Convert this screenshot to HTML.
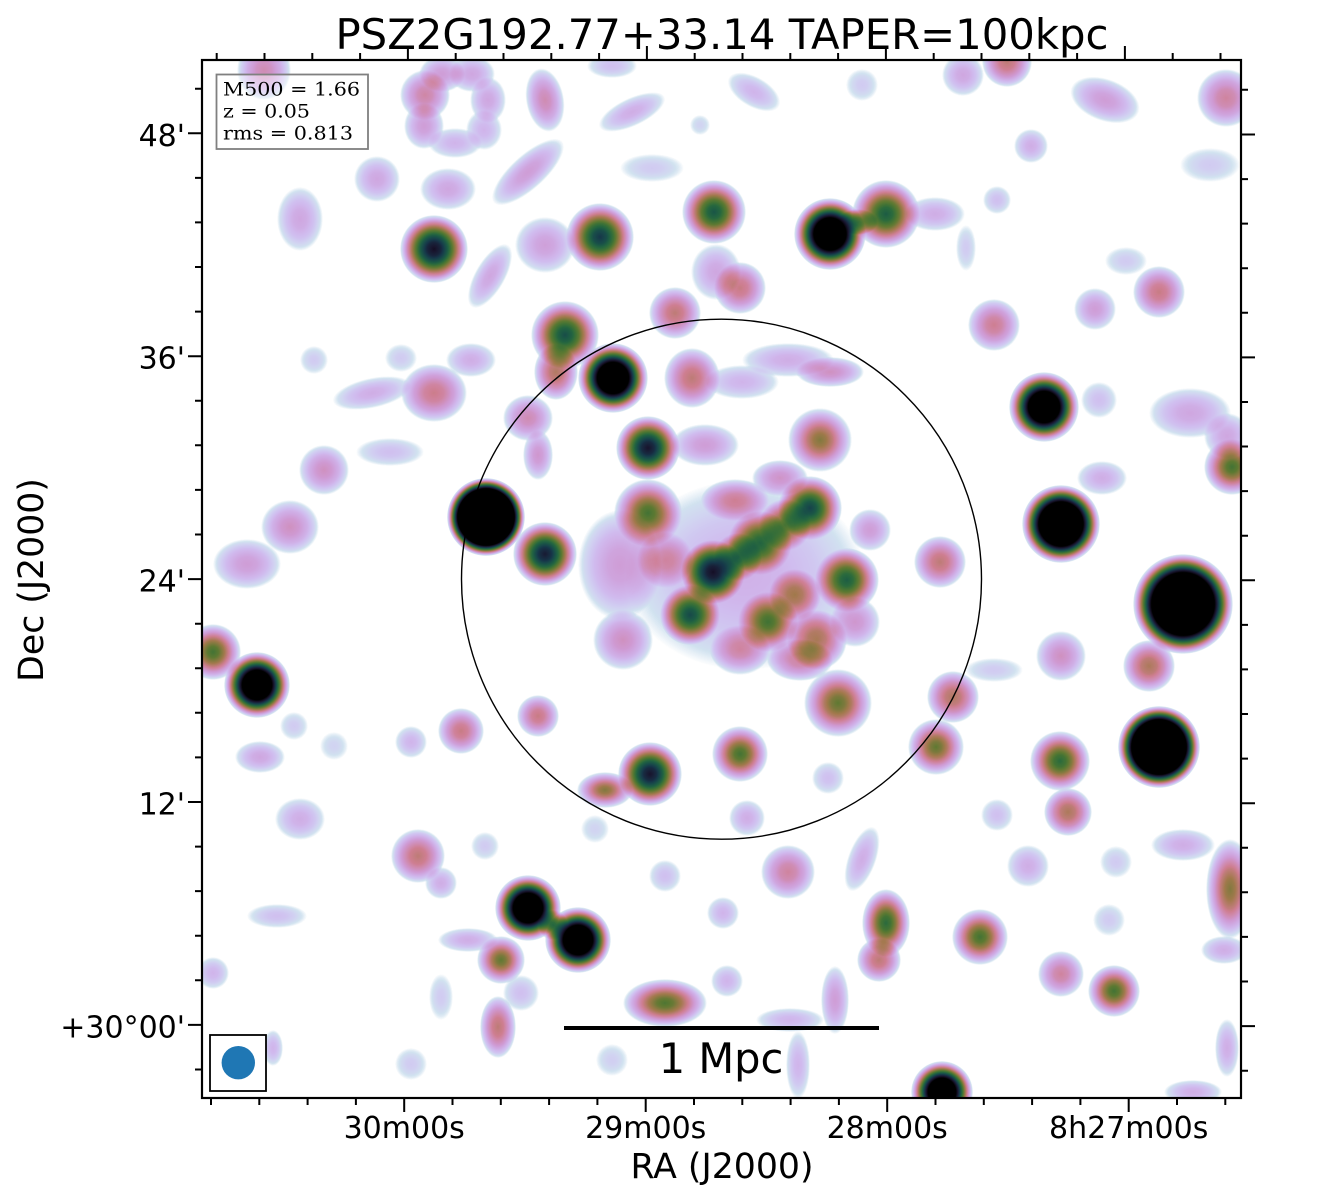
<!DOCTYPE html>
<html>
<head>
<meta charset="utf-8">
<style>
html,body{margin:0;padding:0;background:#fff;}
svg{display:block;}
text{font-family:"DejaVu Sans","Liberation Sans",sans-serif;fill:#000;}
</style>
</head>
<body>
<svg width="1321" height="1200" viewBox="0 0 1321 1200" xmlns="http://www.w3.org/2000/svg">
<defs>
  <radialGradient id="g">
    <stop offset="0" stop-color="#fff" stop-opacity="1"/>
    <stop offset="0.2" stop-color="#fff" stop-opacity="0.92"/>
    <stop offset="0.4" stop-color="#fff" stop-opacity="0.76"/>
    <stop offset="0.6" stop-color="#fff" stop-opacity="0.54"/>
    <stop offset="0.8" stop-color="#fff" stop-opacity="0.3"/>
    <stop offset="1" stop-color="#fff" stop-opacity="0"/>
  </radialGradient>
  <radialGradient id="f">
    <stop offset="0" stop-color="#fff" stop-opacity="1"/>
    <stop offset="0.3" stop-color="#fff" stop-opacity="0.9"/>
    <stop offset="0.6" stop-color="#fff" stop-opacity="0.64"/>
    <stop offset="0.85" stop-color="#fff" stop-opacity="0.3"/>
    <stop offset="1" stop-color="#fff" stop-opacity="0"/>
  </radialGradient>
  <radialGradient id="h45">
    <stop offset="0" stop-color="#fff" stop-opacity="1"/>
    <stop offset="0.45" stop-color="#fff" stop-opacity="1"/>
    <stop offset="1" stop-color="#fff" stop-opacity="0"/>
  </radialGradient>
  <radialGradient id="h57">
    <stop offset="0" stop-color="#fff" stop-opacity="1"/>
    <stop offset="0.57" stop-color="#fff" stop-opacity="1"/>
    <stop offset="1" stop-color="#fff" stop-opacity="0"/>
  </radialGradient>
  <radialGradient id="h63">
    <stop offset="0" stop-color="#fff" stop-opacity="1"/>
    <stop offset="0.63" stop-color="#fff" stop-opacity="1"/>
    <stop offset="1" stop-color="#fff" stop-opacity="0"/>
  </radialGradient>
  <radialGradient id="h67">
    <stop offset="0" stop-color="#fff" stop-opacity="1"/>
    <stop offset="0.67" stop-color="#fff" stop-opacity="1"/>
    <stop offset="1" stop-color="#fff" stop-opacity="0"/>
  </radialGradient>
  <radialGradient id="h73">
    <stop offset="0" stop-color="#fff" stop-opacity="1"/>
    <stop offset="0.73" stop-color="#fff" stop-opacity="1"/>
    <stop offset="1" stop-color="#fff" stop-opacity="0"/>
  </radialGradient>
  <filter id="cm" filterUnits="userSpaceOnUse" x="202" y="60" width="1039" height="1038" color-interpolation-filters="sRGB">
    <feComponentTransfer>
      <feFuncR type="table" tableValues="1 .822 .820 .817 .815 .814 .815 .811 .725 .639 .508 .371 .262 .166 .112 .096 .089 .096 .094 .047 0"/>
      <feFuncG type="table" tableValues="1 .888 .810 .735 .667 .602 .548 .496 .486 .476 .475 .476 .452 .417 .361 .287 .213 .142 .076 .038 0"/>
      <feFuncB type="table" tableValues="1 .941 .949 .936 .890 .826 .698 .569 .436 .303 .245 .198 .207 .241 .269 .291 .287 .233 .173 .086 0"/>
    </feComponentTransfer>
  </filter>
</defs>

<rect x="0" y="0" width="1321" height="1200" fill="#fff"/>

<g filter="url(#cm)">
  <rect x="202" y="60" width="1039" height="1038" fill="#000"/>
  <!-- faint / diffuse emission -->
  <g fill="url(#f)">
    <ellipse cx="745" cy="575" rx="120" ry="95" opacity=".18"/>
    <ellipse cx="264" cy="70" rx="27" ry="30" opacity=".3"/>
    <ellipse cx="425" cy="95" rx="25" ry="25" opacity=".32"/>
    <ellipse cx="442" cy="74" rx="23" ry="18" opacity=".24"/>
    <ellipse cx="472" cy="74" rx="23" ry="18" opacity=".21"/>
    <ellipse cx="488" cy="100" rx="18" ry="23" opacity=".21"/>
    <ellipse cx="484" cy="130" rx="18" ry="20" opacity=".17"/>
    <ellipse cx="455" cy="143" rx="27" ry="15" opacity=".17"/>
    <ellipse cx="424" cy="126" rx="20" ry="23" opacity=".24"/>
    <ellipse cx="545" cy="100" rx="19" ry="32" opacity=".3" transform="rotate(-10 545 100)"/>
    <ellipse cx="612" cy="66" rx="25" ry="12" opacity=".14"/>
    <ellipse cx="632" cy="112" rx="36" ry="14" opacity=".19" transform="rotate(-25 632 112)"/>
    <ellipse cx="700" cy="125" rx="10" ry="10" opacity=".09"/>
    <ellipse cx="300" cy="219" rx="23" ry="32" opacity=".21"/>
    <ellipse cx="377" cy="179" rx="23" ry="23" opacity=".21"/>
    <ellipse cx="448" cy="189" rx="28" ry="21" opacity=".21"/>
    <ellipse cx="528" cy="172" rx="46" ry="17" opacity=".24" transform="rotate(-42 528 172)"/>
    <ellipse cx="652" cy="168" rx="32" ry="14" opacity=".11"/>
    <ellipse cx="490" cy="276" rx="15" ry="36" opacity=".21" transform="rotate(30 490 276)"/>
    <ellipse cx="545" cy="245" rx="30" ry="28" opacity=".23"/>
    <ellipse cx="716" cy="272" rx="25" ry="28" opacity=".21"/>
    <ellipse cx="556" cy="372" rx="22" ry="28" opacity=".42"/>
    <ellipse cx="675" cy="313" rx="26" ry="26" opacity=".39"/>
    <ellipse cx="692" cy="378" rx="28" ry="30" opacity=".39"/>
    <ellipse cx="434" cy="393" rx="33" ry="29" opacity=".36"/>
    <ellipse cx="372" cy="393" rx="40" ry="15" opacity=".19" transform="rotate(-12 372 393)"/>
    <ellipse cx="314" cy="360" rx="14" ry="14" opacity=".11"/>
    <ellipse cx="471" cy="360" rx="25" ry="17" opacity=".19"/>
    <ellipse cx="401" cy="358" rx="16" ry="14" opacity=".11"/>
    <ellipse cx="528" cy="418" rx="25" ry="23" opacity=".3"/>
    <ellipse cx="538" cy="455" rx="15" ry="25" opacity=".26"/>
    <ellipse cx="705" cy="445" rx="34" ry="21" opacity=".24"/>
    <ellipse cx="324" cy="470" rx="25" ry="25" opacity=".28"/>
    <ellipse cx="390" cy="452" rx="34" ry="14" opacity=".14"/>
    <ellipse cx="290" cy="527" rx="29" ry="27" opacity=".28"/>
    <ellipse cx="247" cy="564" rx="34" ry="25" opacity=".24"/>

    <!-- central cluster diffuse -->
    <ellipse cx="620" cy="565" rx="42" ry="55" opacity=".24"/>
    <ellipse cx="623" cy="640" rx="30" ry="30" opacity=".28"/>
    <ellipse cx="817" cy="640" rx="30" ry="30" opacity=".42"/>
    <ellipse cx="735" cy="500" rx="34" ry="21" opacity=".3"/>
    <ellipse cx="795" cy="595" rx="26" ry="26" opacity=".37"/>
    <ellipse cx="780" cy="478" rx="28" ry="18" opacity=".27"/>
    <ellipse cx="870" cy="530" rx="21" ry="21" opacity=".24"/>
    <ellipse cx="800" cy="660" rx="33" ry="21" opacity=".33"/>
    <ellipse cx="665" cy="560" rx="28" ry="28" opacity=".26"/>
    <ellipse cx="740" cy="650" rx="30" ry="25" opacity=".28"/>
    <ellipse cx="855" cy="622" rx="25" ry="25" opacity=".26"/>

    <!-- top right -->
    <ellipse cx="1007" cy="62" rx="25" ry="25" opacity=".39"/>
    <ellipse cx="963" cy="75" rx="21" ry="21" opacity=".21"/>
    <ellipse cx="754" cy="92" rx="29" ry="15" opacity=".17" transform="rotate(30 754 92)"/>
    <ellipse cx="862" cy="85" rx="16" ry="16" opacity=".11"/>
    <ellipse cx="1105" cy="100" rx="36" ry="21" opacity=".24" transform="rotate(20 1105 100)"/>
    <ellipse cx="1226" cy="98" rx="29" ry="29" opacity=".33"/>
    <ellipse cx="1031" cy="146" rx="17" ry="17" opacity=".19"/>
    <ellipse cx="1210" cy="165" rx="30" ry="17" opacity=".11"/>
    <ellipse cx="858" cy="222" rx="20" ry="13" opacity=".4"/>
    <ellipse cx="935" cy="214" rx="30" ry="17" opacity=".19"/>
    <ellipse cx="966" cy="248" rx="10" ry="23" opacity=".11"/>
    <ellipse cx="997" cy="200" rx="14" ry="14" opacity=".14"/>
    <ellipse cx="740" cy="288" rx="26" ry="26" opacity=".37"/>
    <ellipse cx="1159" cy="292" rx="26" ry="26" opacity=".37"/>
    <ellipse cx="1126" cy="261" rx="21" ry="14" opacity=".11"/>
    <ellipse cx="1095" cy="309" rx="21" ry="21" opacity=".24"/>
    <ellipse cx="994" cy="325" rx="26" ry="26" opacity=".35"/>
    <ellipse cx="1099" cy="400" rx="18" ry="18" opacity=".14"/>
    <ellipse cx="1190" cy="413" rx="41" ry="25" opacity=".21"/>
    <ellipse cx="1227" cy="436" rx="23" ry="23" opacity=".21"/>
    <ellipse cx="1102" cy="478" rx="25" ry="17" opacity=".19"/>
    <ellipse cx="788" cy="360" rx="46" ry="17" opacity=".19"/>
    <ellipse cx="830" cy="372" rx="34" ry="15" opacity=".28"/>
    <ellipse cx="742" cy="382" rx="37" ry="17" opacity=".17"/>
    <ellipse cx="940" cy="562" rx="26" ry="26" opacity=".39"/>

    <!-- bottom left -->
    <ellipse cx="294" cy="726" rx="14" ry="14" opacity=".11"/>
    <ellipse cx="260" cy="757" rx="25" ry="16" opacity=".21"/>
    <ellipse cx="334" cy="746" rx="14" ry="14" opacity=".09"/>
    <ellipse cx="411" cy="742" rx="16" ry="16" opacity=".17"/>
    <ellipse cx="461" cy="731" rx="23" ry="23" opacity=".37"/>
    <ellipse cx="538" cy="716" rx="21" ry="21" opacity=".37"/>
    <ellipse cx="300" cy="819" rx="25" ry="21" opacity=".19"/>
    <ellipse cx="418" cy="856" rx="27" ry="27" opacity=".39"/>
    <ellipse cx="441" cy="883" rx="16" ry="16" opacity=".19"/>
    <ellipse cx="485" cy="846" rx="14" ry="14" opacity=".11"/>
    <ellipse cx="595" cy="829" rx="14" ry="14" opacity=".09"/>
    <ellipse cx="665" cy="876" rx="16" ry="16" opacity=".14"/>
    <ellipse cx="277" cy="916" rx="30" ry="12" opacity=".14"/>
    <ellipse cx="468" cy="940" rx="30" ry="12" opacity=".19"/>
    <ellipse cx="498" cy="1027" rx="18" ry="31" opacity=".39"/>
    <ellipse cx="213" cy="973" rx="16" ry="16" opacity=".17"/>
    <ellipse cx="441" cy="997" rx="12" ry="23" opacity=".11"/>
    <ellipse cx="411" cy="1064" rx="16" ry="16" opacity=".11"/>
    <ellipse cx="612" cy="1060" rx="16" ry="16" opacity=".1"/>
    <ellipse cx="273" cy="1048" rx="10" ry="18" opacity=".17"/>
    <ellipse cx="521" cy="993" rx="18" ry="18" opacity=".14"/>

    <!-- bottom right -->
    <ellipse cx="953" cy="697" rx="26" ry="26" opacity=".42"/>
    <ellipse cx="994" cy="670" rx="29" ry="12" opacity=".11"/>
    <ellipse cx="1061" cy="656" rx="25" ry="25" opacity=".28"/>
    <ellipse cx="1149" cy="666" rx="26" ry="26" opacity=".43"/>
    <ellipse cx="1068" cy="812" rx="24" ry="24" opacity=".43"/>
    <ellipse cx="997" cy="815" rx="16" ry="16" opacity=".14"/>
    <ellipse cx="1028" cy="866" rx="21" ry="21" opacity=".19"/>
    <ellipse cx="1116" cy="862" rx="16" ry="16" opacity=".11"/>
    <ellipse cx="1183" cy="845" rx="32" ry="16" opacity=".19"/>
    <ellipse cx="788" cy="872" rx="27" ry="27" opacity=".33"/>
    <ellipse cx="862" cy="859" rx="14" ry="34" opacity=".19" transform="rotate(20 862 859)"/>
    <ellipse cx="879" cy="960" rx="22" ry="22" opacity=".39"/>
    <ellipse cx="1061" cy="974" rx="23" ry="23" opacity=".33"/>
    <ellipse cx="835" cy="1000" rx="14" ry="34" opacity=".24"/>
    <ellipse cx="790" cy="1020" rx="34" ry="12" opacity=".17"/>
    <ellipse cx="1109" cy="920" rx="16" ry="16" opacity=".11"/>
    <ellipse cx="1224" cy="950" rx="23" ry="14" opacity=".19"/>
    <ellipse cx="1227" cy="1048" rx="12" ry="29" opacity=".19"/>
    <ellipse cx="798" cy="1065" rx="12" ry="34" opacity=".17"/>
    <ellipse cx="727" cy="981" rx="16" ry="16" opacity=".17"/>
    <ellipse cx="723" cy="913" rx="16" ry="16" opacity=".17"/>
    <ellipse cx="747" cy="818" rx="18" ry="18" opacity=".19"/>
    <ellipse cx="828" cy="778" rx="16" ry="16" opacity=".14"/>
    <ellipse cx="1193" cy="1092" rx="29" ry="12" opacity=".19"/>
  </g>

  <!-- compact sources -->
  <g fill="url(#g)">
    <ellipse cx="434" cy="249" rx="34" ry="34" opacity=".92"/>
    <ellipse cx="600" cy="237" rx="34" ry="34" opacity=".8"/>
    <ellipse cx="714" cy="212" rx="32" ry="32" opacity=".72"/>
    <ellipse cx="565" cy="335" rx="34" ry="34" opacity=".74"/>
    <ellipse cx="648" cy="448" rx="32" ry="32" opacity=".9"/>
    <ellipse cx="648" cy="513" rx="34" ry="34" opacity=".6"/>
    <ellipse cx="545" cy="554" rx="32" ry="32" opacity=".88"/>
    <ellipse cx="713" cy="572" rx="32" ry="32" opacity=".9"/>
    <ellipse cx="690" cy="615" rx="30" ry="30" opacity=".72"/>
    <ellipse cx="760" cy="543" rx="32" ry="32" opacity=".62"/>
    <ellipse cx="810" cy="508" rx="32" ry="32" opacity=".76"/>
    <ellipse cx="847" cy="580" rx="32" ry="32" opacity=".68"/>
    <ellipse cx="768" cy="622" rx="30" ry="30" opacity=".55"/>
    <ellipse cx="820" cy="440" rx="32" ry="32" opacity=".5"/>
    <ellipse cx="838" cy="703" rx="34" ry="34" opacity=".55"/>
    <ellipse cx="738" cy="557" rx="24" ry="24" opacity=".5"/>
    <ellipse cx="785" cy="525" rx="26" ry="26" opacity=".5"/>
    <ellipse cx="886" cy="214" rx="34" ry="34" opacity=".7"/>
    <ellipse cx="1232" cy="467" rx="28" ry="28" opacity=".6"/>
    <ellipse cx="213" cy="652" rx="28" ry="28" opacity=".6"/>
    <ellipse cx="650" cy="774" rx="32" ry="32" opacity=".9"/>
    <ellipse cx="605" cy="790" rx="28" ry="18" opacity=".5"/>
    <ellipse cx="553" cy="925" rx="15" ry="15" opacity=".5"/>
    <ellipse cx="501" cy="960" rx="24" ry="24" opacity=".55"/>
    <ellipse cx="665" cy="1003" rx="42" ry="24" opacity=".58"/>
    <ellipse cx="936" cy="747" rx="28" ry="28" opacity=".55"/>
    <ellipse cx="1060" cy="761" rx="30" ry="30" opacity=".65"/>
    <ellipse cx="1230" cy="889" rx="24" ry="50" opacity=".5"/>
    <ellipse cx="886" cy="923" rx="24" ry="34" opacity=".65"/>
    <ellipse cx="980" cy="937" rx="28" ry="28" opacity=".6"/>
    <ellipse cx="1114" cy="991" rx="26" ry="26" opacity=".6"/>
    <ellipse cx="740" cy="754" rx="28" ry="28" opacity=".6"/>
  </g>
  <!-- bright saturated sources -->
  <circle cx="613" cy="378" r="35" fill="url(#h45)"/>
  <circle cx="486" cy="517" r="39" fill="url(#h73)"/>
  <circle cx="830" cy="234" r="36" fill="url(#h45)"/>
  <circle cx="1044" cy="407" r="35" fill="url(#h45)"/>
  <circle cx="1061" cy="524" r="39" fill="url(#h57)"/>
  <circle cx="1183" cy="604" r="50" fill="url(#h63)"/>
  <circle cx="257" cy="685" r="33" fill="url(#h45)"/>
  <circle cx="528" cy="908" r="33" fill="url(#h45)"/>
  <circle cx="578" cy="940" r="33" fill="url(#h45)"/>
  <circle cx="1159" cy="747" r="41" fill="url(#h67)"/>
  <circle cx="942" cy="1092" r="31" fill="url(#h45)"/>
</g>

<!-- R500 circle -->
<circle cx="721.5" cy="579.2" r="260" fill="none" stroke="#000" stroke-width="1.4"/>

<!-- info box -->
<rect x="216.5" y="74.5" width="151.5" height="74.5" fill="#fff" fill-opacity="0.45" stroke="#808080" stroke-width="1.8"/>
<text x="223" y="95.5" textLength="137" lengthAdjust="spacingAndGlyphs" style="font-family:'DejaVu Serif','Liberation Serif',serif;font-size:19px;">M500 = 1.66</text>
<text x="223" y="117.5" textLength="87" lengthAdjust="spacingAndGlyphs" style="font-family:'DejaVu Serif','Liberation Serif',serif;font-size:19px;">z = 0.05</text>
<text x="223" y="139.5" textLength="130" lengthAdjust="spacingAndGlyphs" style="font-family:'DejaVu Serif','Liberation Serif',serif;font-size:19px;">rms = 0.813</text>

<!-- beam -->
<rect x="210" y="1035" width="56" height="56" fill="#fff" stroke="#000" stroke-width="1.8"/>
<circle cx="238.3" cy="1062.7" r="16.7" fill="#1f77b4"/>

<!-- scale bar -->
<rect x="564" y="1026" width="315" height="4" fill="#000"/>
<text x="721" y="1073" text-anchor="middle" style="font-size:41.5px;">1 Mpc</text>

<!-- axes frame -->
<rect x="202" y="60" width="1039" height="1038" fill="none" stroke="#000" stroke-width="2.2"/>

<!-- ticks -->
<path stroke="#000" stroke-width="2" fill="none" d="
M211,1098v7 M259.3,1098v7 M307.6,1098v7 M355.9,1098v7 M404.2,1098v14 M452.5,1098v7 M500.8,1098v7 M549.1,1098v7 M597.4,1098v7 M645.7,1098v14 M694,1098v7 M742.3,1098v7 M790.6,1098v7 M838.9,1098v7 M887.2,1098v14 M935.5,1098v7 M983.8,1098v7 M1032.1,1098v7 M1080.4,1098v7 M1128.7,1098v14 M1177,1098v7 M1225.3,1098v7
M216.7,60v-7 M264.5,60v-7 M312.3,60v-7 M360.1,60v-7 M407.9,60v-14 M455.7,60v-7 M503.5,60v-7 M551.3,60v-7 M599.1,60v-7 M646.9,60v-14 M694.7,60v-7 M742.5,60v-7 M790.3,60v-7 M838.1,60v-7 M885.9,60v-14 M933.7,60v-7 M981.5,60v-7 M1029.3,60v-7 M1077.1,60v-7 M1124.9,60v-14 M1172.7,60v-7 M1220.5,60v-7
M202,88.7h-7 M202,133.3h-14 M202,177.9h-7 M202,222.4h-7 M202,267h-7 M202,311.6h-7 M202,356.2h-14 M202,400.8h-7 M202,445.3h-7 M202,489.9h-7 M202,534.5h-7 M202,579.1h-14 M202,623.7h-7 M202,668.2h-7 M202,712.8h-7 M202,757.4h-7 M202,802h-14 M202,846.6h-7 M202,891.1h-7 M202,935.7h-7 M202,980.3h-7 M202,1024.9h-14 M202,1069.5h-7
M1241,89.7h7 M1241,134.5h14 M1241,179.1h7 M1241,223.6h7 M1241,268.2h7 M1241,312.8h7 M1241,357.4h14 M1241,402h7 M1241,446.5h7 M1241,491.1h7 M1241,535.7h7 M1241,580.3h14 M1241,624.9h7 M1241,669.4h7 M1241,714h7 M1241,758.6h7 M1241,803.2h14 M1241,847.8h7 M1241,892.3h7 M1241,936.9h7 M1241,981.5h7 M1241,1026.1h14 M1241,1070.7h7
"/>

<!-- tick labels -->
<g style="font-size:30px;">
  <text x="185" y="145.8" text-anchor="end">48'</text>
  <text x="185" y="368.7" text-anchor="end">36'</text>
  <text x="185" y="591.6" text-anchor="end">24'</text>
  <text x="185" y="814.5" text-anchor="end">12'</text>
  <text x="185" y="1037.4" text-anchor="end">+30°00'</text>
  <text x="404.2" y="1138" text-anchor="middle">30m00s</text>
  <text x="645.7" y="1138" text-anchor="middle">29m00s</text>
  <text x="887.2" y="1138" text-anchor="middle">28m00s</text>
  <text x="1128.7" y="1138" text-anchor="middle">8h27m00s</text>
</g>

<!-- axis labels -->
<text x="722" y="1178" text-anchor="middle" style="font-size:34.7px;">RA (J2000)</text>
<text transform="translate(43,580) rotate(-90)" text-anchor="middle" style="font-size:34.7px;">Dec (J2000)</text>

<!-- title -->
<text x="722" y="49" text-anchor="middle" textLength="773" lengthAdjust="spacingAndGlyphs" style="font-size:41.67px;">PSZ2G192.77+33.14 TAPER=100kpc</text>
</svg>
</body>
</html>
